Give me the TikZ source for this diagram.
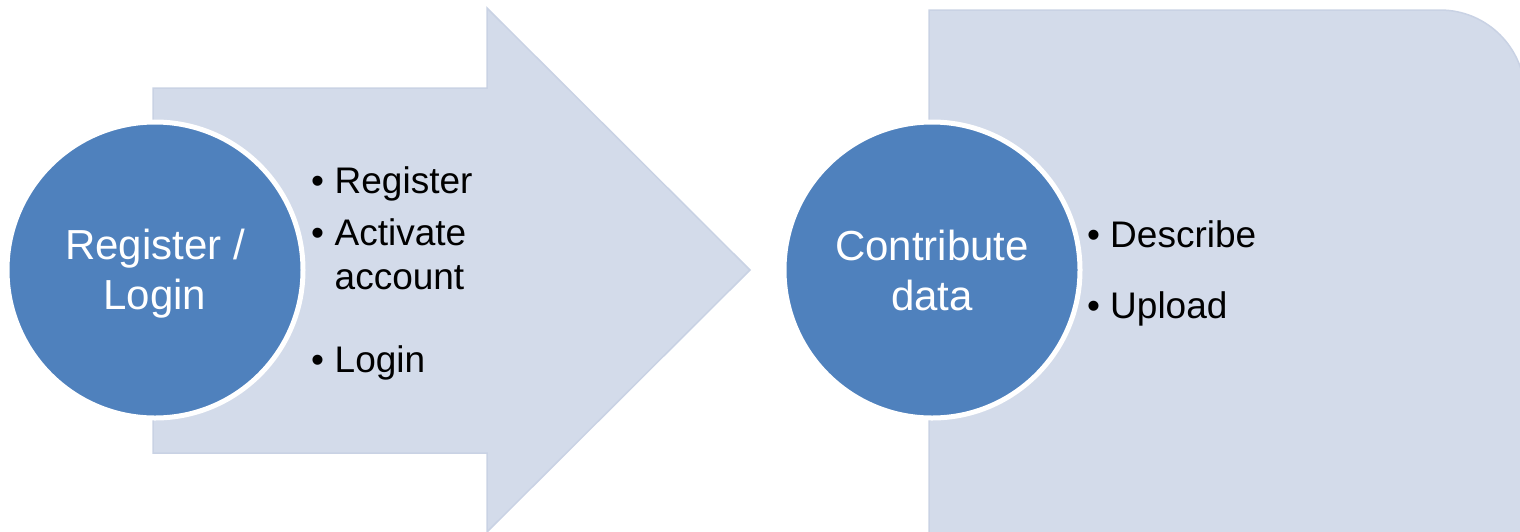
\documentclass[tikz,border=0pt]{standalone}
\usepackage{fontspec}
\setmainfont{Liberation Sans}
\definecolor{hubblue}{HTML}{4F81BD}
\definecolor{paleblue}{HTML}{D3DBEA}
\definecolor{paleedge}{HTML}{C9D2E4}
\tikzset{
  hub/.style={circle, fill=hubblue, draw=white, line width=5pt, minimum size=296pt, inner sep=0pt},
  hubtext/.style={text=white, align=center, inner sep=0pt, font=\fontsize{42}{50}\selectfont},
  dot/.style={anchor=base west, inner sep=0pt, font=\fontsize{37}{44}\selectfont},
  item/.style={anchor=base west, inner sep=0pt, font=\fontsize{37}{44}\selectfont},
  panel/.style={fill=paleblue, draw=paleedge, line width=1.5pt}
}
\begin{document}
\begin{tikzpicture}[x=1pt,y=-1pt]
      \useasboundingbox (0,0) rectangle (1520,531);
      \clip (0,0) rectangle (1520,531);
      \draw[panel] (153,88) -- (487,88) -- (487,8) -- (750,270) -- (487,532) -- (487,453) -- (153,453) -- cycle;
      \draw[panel] (929,545) -- (929,10) -- (1440,10) arc[start angle=-90, end angle=0, radius=85] -- (1525,545);
      \draw
        (155,270) node[hub] (reg){}
        (932,270) node[hub] (contrib){};
      \node[hubtext] (reglabel) at ([yshift=-4pt]reg.center) {Register /\\Login};
      \node[hubtext] (contriblabel) at (contrib.center) {Contribute\\data};
      \draw
        (311,193) node[dot] (dot1){•}
        (334.5,193) node[item] (register){Register}
        (311,245.5) node[dot] (dot2){•}
        (334.5,245.5) node[item] (activate){Activate}
        (334.5,289.5) node[item] (account){account}
        (311,372.5) node[dot] (dot3){•}
        (334.5,372.5) node[item] (login){Login};
      \draw
        (1087,247) node[dot] (dot4){•}
        (1110,247) node[item] (describe){Describe}
        (1087,318) node[dot] (dot5){•}
        (1110,318) node[item] (upload){Upload};
    \end{tikzpicture}
\end{document}
